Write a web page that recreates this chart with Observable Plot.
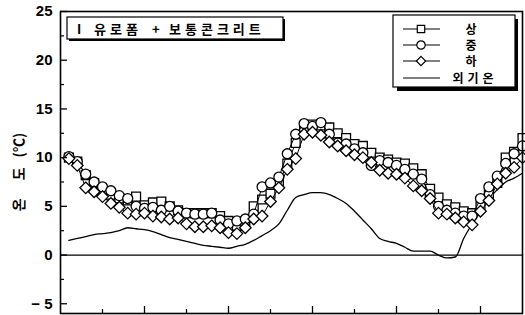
<!DOCTYPE html>
<html><head><meta charset="utf-8">
<script src="https://cdn.jsdelivr.net/npm/d3@7"></script>
<script src="https://cdn.jsdelivr.net/npm/@observablehq/plot@0.6"></script>
<style>body{margin:0;background:#fff}#chart{position:relative;width:525px;height:315px}</style>
</head><body><div id="chart"></div>
<script>
// sampling interval along x (axis units)
const step = 0.2;
// 상 (upper)
const upper = [10.0,9.6,8.2,7.4,6.6,6.2,5.8,5.6,6.0,5.1, 5.4,5.5,5.0,4.6,4.3,4.3,4.3,4.3,4.0,3.5, 3.0,3.4,5.0,5.7,6.3,7.4,9.4,11.5,13.1,13.4, 13.3,13.1,12.5,12.0,11.4,11.2,10.5,10.0,9.8,9.5, 9.4,8.9,8.3,6.8,5.9,5.2,4.9,4.5,4.3,5.0, 6.3,7.4,10.0,10.6,12.0];
// 중 (middle)
const middle = [10.1,9.6,8.3,7.5,7.0,6.6,6.1,5.8,5.0,4.8, 4.9,4.6,5.0,4.5,4.3,4.2,4.2,4.3,3.6,3.2, 3.5,3.7,4.2,7.0,7.4,8.0,10.4,12.4,13.5,13.2, 13.6,12.4,11.5,11.4,10.9,10.5,9.2,9.7,9.5,9.2, 8.8,8.3,7.8,6.2,5.0,4.6,4.3,4.0,4.0,5.8, 7.0,8.1,9.4,10.4,11.2];
// 하 (lower)
const lower = [9.9,9.2,6.9,6.5,6.0,5.3,4.9,4.3,4.2,4.3, 4.0,3.9,3.7,3.8,3.2,2.9,2.9,3.0,2.8,2.3, 2.2,2.8,3.7,4.0,5.5,6.9,8.8,9.9,12.4,12.6, 12.3,11.6,11.2,10.7,10.3,10.0,9.5,8.7,8.4,8.3, 7.9,7.1,6.6,5.8,4.3,4.2,3.8,3.4,3.1,4.5, 5.6,7.3,8.4,9.0,10.0];
// 외기온 (outdoor air)
const air = [1.5,1.7,1.9,2.1,2.2,2.3,2.5,2.8,2.7,2.6, 2.4,2.1,1.8,1.6,1.4,1.2,1.0,0.9,0.8,0.7, 0.9,1.1,1.5,2.0,2.5,3.2,4.6,5.9,6.2,6.4, 6.4,6.2,5.8,5.3,4.5,3.6,2.7,1.7,1.4,1.2, 0.8,0.4,0.4,0.4,0.0,-0.3,-0.2,1.7,3.2,4.6, 5.8,6.7,7.5,7.9,8.4];

const seriesNames = ["상","중","하","외기온"];
const yTicks = [-5,0,5,10,15,20,25];
const yMinor = [-2.5,2.5,7.5,12.5,17.5,22.5];
const xMajor = [2,4,6,8,10];
const xMinor = [1,3,5,7,9];
const xDomain = [0,11];
const yDomain = [-6,25];
const titleParts = ["I","유로폼","+","보통콘크리트"];
const yLabelParts = ["온","도","(℃)"];

const rows = arr => arr.map((v,i)=>({t:(i+1)*step, v}));
const U = rows(upper), M = rows(middle), L = rows(lower), A = rows(air);

const W=525, H=315, mL=60, mR=3, mT=11, mB=2;
const pw = W-mL-mR, ph = H-mT-mB;
const mk = {stroke:"black", fill:"white", strokeWidth:1.3};

const svg = Plot.plot({
  width:W, height:H, marginLeft:mL, marginRight:mR, marginTop:mT, marginBottom:mB,
  x:{domain:xDomain, axis:null},
  y:{domain:yDomain, axis:null},
  style:{background:"white", color:"black", fontFamily:"'Liberation Sans', Arial, sans-serif"},
  marks:[
    Plot.ruleY([0], {stroke:"black", strokeWidth:1.2}),
    Plot.line(A, {x:"t", y:"v", stroke:"black", strokeWidth:1.3, curve:"monotone-x"}),
    Plot.line(U, {x:"t", y:"v", stroke:"black", strokeWidth:1}),
    Plot.dot(U, {x:"t", y:"v", symbol:"square", r:5, ...mk}),
    Plot.line(M, {x:"t", y:"v", stroke:"black", strokeWidth:1}),
    Plot.dot(M, {x:"t", y:"v", symbol:"circle", r:5, ...mk}),
    Plot.line(L, {x:"t", y:"v", stroke:"black", strokeWidth:1}),
    Plot.dot(L, {x:"t", y:"v", symbol:"diamond2", r:5.2, ...mk}),
    Plot.tickY(yTicks, {y:d=>d, insetRight:pw-7, stroke:"black", strokeWidth:1.3}),
    Plot.tickY(yMinor, {y:d=>d, insetRight:pw-4, stroke:"black", strokeWidth:1.2}),
    Plot.tickX(xMajor, {x:d=>d, insetTop:ph-7, stroke:"black", strokeWidth:1.3}),
    Plot.tickX(xMinor, {x:d=>d, insetTop:ph-4, stroke:"black", strokeWidth:1.2}),
    Plot.axisY(yTicks, {tickSize:0, tickPadding:8, fontSize:15, fontWeight:"bold", label:null,
      tickFormat:d=> d<0 ? "− "+(-d) : String(d)}),
    Plot.frame({stroke:"black", strokeWidth:1.6})
  ]
});
document.getElementById("chart").appendChild(svg);

const s = d3.select(svg);
const kr = "'Noto Sans CJK KR', 'Noto Sans', sans-serif";

// y label
const yl = s.append("text").attr("transform","translate(24,172) rotate(-90)")
  .attr("text-anchor","middle").attr("font-family",kr).attr("font-weight","bold")
  .attr("font-size",14).attr("fill","black");
yl.append("tspan").text(yLabelParts[0]);
yl.append("tspan").attr("dx",18).text(yLabelParts[1]);
yl.append("tspan").attr("dx",10).text(yLabelParts[2]);

// title box
s.append("rect").attr("x",69).attr("y",19).attr("width",216).attr("height",22).attr("fill","black");
s.append("rect").attr("x",67).attr("y",17).attr("width",216).attr("height",22)
  .attr("fill","white").attr("stroke","black").attr("stroke-width",1.2);
const tx = [77, 94, 152, 169];
const tt = s.append("text").attr("y",33.5).attr("font-family",kr).attr("font-weight","bold")
  .attr("font-size",13).attr("fill","black").attr("text-anchor","start");
titleParts.forEach((p,i)=>{
  tt.append("tspan").attr("x",tx[i]).attr("letter-spacing", p.length>1 ? 4 : 0).text(p);
});

// legend
s.append("rect").attr("x",397).attr("y",19).attr("width",121).attr("height",72).attr("fill","black");
s.append("rect").attr("x",393).attr("y",15).attr("width",122).attr("height",72)
  .attr("fill","white").attr("stroke","black").attr("stroke-width",1.2);
const rowsY = [29,45,61,78];
const syms = [d3.symbolSquare, d3.symbolCircle, d3.symbolDiamond2, null];
seriesNames.forEach((name,i)=>{
  const y = rowsY[i];
  s.append("line").attr("x1",403).attr("x2",440).attr("y1",y).attr("y2",y)
    .attr("stroke","black").attr("stroke-width",1.1);
  if (syms[i]) {
    s.append("path").attr("transform",`translate(421,${y})`)
      .attr("d", d3.symbol(syms[i], Math.PI*4.2*4.2)())
      .attr("fill","white").attr("stroke","black").attr("stroke-width",1.2);
  }
  s.append("text").attr("x", i===3 ? 475 : 471).attr("y", y+4.5)
    .attr("text-anchor","middle").attr("font-family",kr).attr("font-weight","bold")
    .attr("font-size",12).attr("letter-spacing", i===3 ? 4 : 0).attr("fill","black").text(name);
});
</script></body></html>
